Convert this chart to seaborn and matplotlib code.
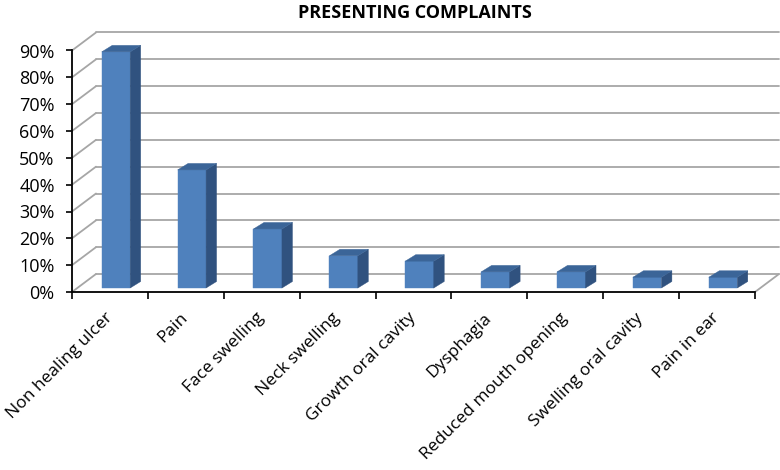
import matplotlib
matplotlib.use("Agg")
import matplotlib.pyplot as plt
from matplotlib.patches import Polygon
from matplotlib.ticker import FixedLocator
import seaborn as sns

# data
complaints = ['Non healing ulcer', 'Pain', 'Face swelling', 'Neck swelling',
              'Growth oral cavity', 'Dysphagia', 'Reduced mouth opening',
              'Swelling oral cavity', 'Pain in ear']
percent = [0.88, 0.44, 0.22, 0.12, 0.10, 0.06, 0.06, 0.04, 0.04]
y_ticks = [0, 0.1, 0.2, 0.3, 0.4, 0.5, 0.6, 0.7, 0.8, 0.9]
y_labels = ['0%', '10%', '20%', '30%', '40%', '50%', '60%', '70%', '80%', '90%']

sns.set_theme(style="white")
plt.rcParams['font.family'] = ['Open Sans', 'DejaVu Sans']

W, H = 780, 470
fig = plt.figure(figsize=(7.8, 4.7), dpi=100)
ax_l, ax_r, ax_b, ax_t = 72, 755, 292, 50.5   # pixel box of the front axes
ax = fig.add_axes([ax_l / W, (H - ax_b) / H, (ax_r - ax_l) / W, (ax_b - ax_t) / H])

n = len(complaints)
sx = (ax_r - ax_l) / n          # px per category
sy = (ax_b - ax_t) / 0.9        # px per unit of y

def px(dx, dy):
    return dx / sx, dy / sy

wx, wy = px(24, 18)     # back wall offset
bx, by = px(6, 4)       # bar front face offset
dx, dy = px(10.5, 6.5)  # bar depth

front = '#4f81bd'
side = '#30527f'
top = '#3b6598'

sns.barplot(x=complaints, y=percent, color=front, saturation=1, width=0.375,
            ax=ax, zorder=3, edgecolor=front, linewidth=0.3)
ax.set_xlim(-0.5, n - 0.5)
ax.set_ylim(0, 0.9)

# back wall and side wall grid
grid_kw = dict(color='#a6a6a6', lw=1.3, clip_on=False, zorder=1)
for v in y_ticks:
    ax.plot([-0.5 + wx, n - 0.5 + wx], [v + wy, v + wy], **grid_kw)
    ax.plot([-0.5, -0.5 + wx], [v, v + wy], **grid_kw)
ax.plot([n - 0.5, n - 0.5 + wx], [0, wy], **grid_kw)

# 3d faces for each bar
for p in ax.patches:
    p.set_x(p.get_x() + bx)
    p.set_y(by)
    x0 = p.get_x()
    x1 = x0 + p.get_width()
    y1 = by + p.get_height()
    ax.add_patch(Polygon([(x1, by), (x1, y1), (x1 + dx, y1 + dy), (x1 + dx, by + dy)],
                         closed=True, facecolor=side, edgecolor=side, lw=0.3,
                         zorder=3, clip_on=False))
    ax.add_patch(Polygon([(x0, y1), (x1, y1), (x1 + dx, y1 + dy), (x0 + dx, y1 + dy)],
                         closed=True, facecolor=top, edgecolor=top, lw=0.3,
                         zorder=3, clip_on=False))

for s in ['top', 'right']:
    ax.spines[s].set_visible(False)
for s in ['left', 'bottom']:
    ax.spines[s].set_color('black')
    ax.spines[s].set_linewidth(1.3)
    ax.spines[s].set_zorder(4)

ax.set_yticks(y_ticks)
ax.set_yticklabels(y_labels, fontsize=13, color='black')
ax.tick_params(axis='y', direction='out', length=4.5, width=1.2, color='black', pad=8, left=True)

ax.set_xticks(range(n))
ax.set_xticklabels(complaints, rotation=45, ha='right', va='center',
                   rotation_mode='anchor', fontsize=12.5, color='black')
ax.xaxis.set_minor_locator(FixedLocator([i - 0.5 for i in range(n + 1)]))
ax.tick_params(axis='x', which='major', length=0, pad=17)
ax.tick_params(axis='x', which='minor', direction='out', length=5, width=1.2,
               color='black', bottom=True)
ax.set_xlabel('')
ax.set_ylabel('')

fig.text(415 / W, 1 - 13 / H, 'PRESENTING COMPLAINTS', ha='center', va='center',
         fontsize=13, fontweight='bold', color='black')

fig.savefig('out.png', dpi=100)
